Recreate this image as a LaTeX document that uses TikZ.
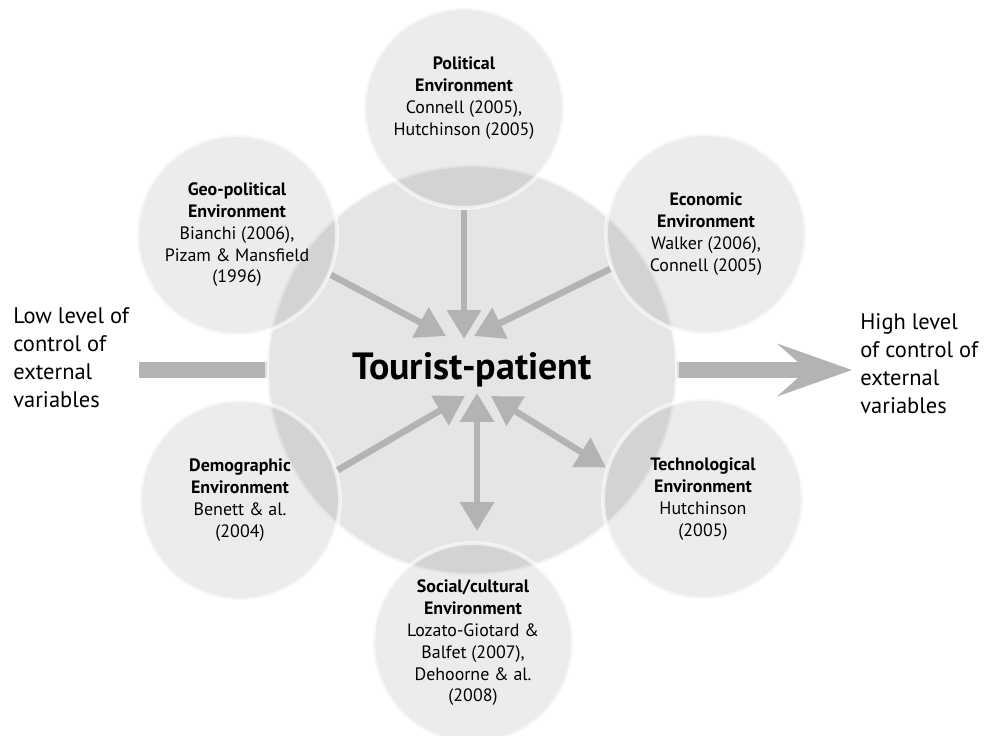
\documentclass[tikz,border=0pt]{standalone}
\usepackage{fontspec}
\setmainfont{PT Sans}
\usetikzlibrary{arrows.meta,calc}
\pgfdeclarelayer{bg}
\pgfsetlayers{bg,main}
\definecolor{arrowgray}{HTML}{B3B3B3}
\newcommand{\envtitle}[2]{\textbf{#1}\\\textbf{#2}\\}
\tikzset{
  env/.style={circle, minimum size=4cm, inner sep=0pt, fill=black, fill opacity=0.075, text opacity=1,
    draw=white, draw opacity=0.6, line width=0.08cm, align=center, font=\fontsize{10.2}{12.4}\selectfont},
  hub/.style={circle, minimum size=8.2cm, inner sep=0pt, fill=black!10, draw=white, draw opacity=0.6,
    line width=0.08cm, font=\fontsize{21.6}{24}\selectfont\bfseries},
  side/.style={align=left, anchor=west, inner sep=0pt, font=\fontsize{12.8}{16}\selectfont},
  arr/.style={color=arrowgray, line width=0.13cm, -{Triangle[length=0.58cm, width=0.66cm]}},
  twoway/.style={color=arrowgray, line width=0.13cm, {Triangle[length=0.58cm, width=0.66cm]}-{Triangle[length=0.58cm, width=0.66cm]}},
  bigarr/.style={color=arrowgray, line width=0.32cm, -{Stealth[length=1.48cm, width=1.04cm, inset=0.58cm]}}
}
\begin{document}
\begin{tikzpicture}[x=0.02cm, y=-0.02cm]
\useasboundingbox (0,0) rectangle (993,736);
\node [hub] (tp) at (472,370) {Tourist-patient};
\node [env] (pol) at (464,108) {\envtitle{Political}{Environment}Connell (2005),\\Hutchinson (2005)\\[1pt]};
\node [env] (geo) at (237,235) {\envtitle{Geo-political}{Environment}Bianchi (2006),\\Pizam \& Mansfield\\(1996)};
\node [env] (eco) at (706,234) {\envtitle{Economic}{Environment}Walker (2006),\\Connell (2005)};
\node [env] (dem) at (240,500) {\envtitle{Demographic}{Environment}Benett \& al.\\(2004)};
\node [env] (tec) at (703,499) {\envtitle{Technological}{Environment}Hutchinson\\(2005)};
\node [env] (soc) at (473,643) {\envtitle{Social/cultural}{Environment}Lozato-Giotard \&\\Balfet (2007),\\Dehoorne \& al.\\(2008)};
\node [side] (low) at (13,358) {Low level of\\control of\\external\\variables};
\node [side] (high) at (860,364) {High level\\of control of\\external\\variables};
% arrow tips near the centre
\coordinate (tgeo) at (446,336);
\coordinate (tpol) at (464,339);
\coordinate (teco) at (474,336);
\coordinate (tdem) at (465,396);
\coordinate (tsoc) at (477,393);
\coordinate (ttec) at (491,396);
\draw [arr] (geo.-23) -- (tgeo);
\draw [arr] (pol.south) -- (tpol);
\draw [arr] (eco.200) -- (teco);
\draw [arr] (dem.17) -- (tdem);
\draw [twoway, shorten >=0.2cm] (tsoc) -- (tsoc |- soc.north);
\draw [twoway] (ttec) -- (tec.162);
\begin{pgfonlayer}{bg}
\draw [bigarr, shorten <=0.2cm, shorten >=0.16cm] (low.east |- tp) -- (high.west |- tp);
\end{pgfonlayer}
\end{tikzpicture}
\end{document}
